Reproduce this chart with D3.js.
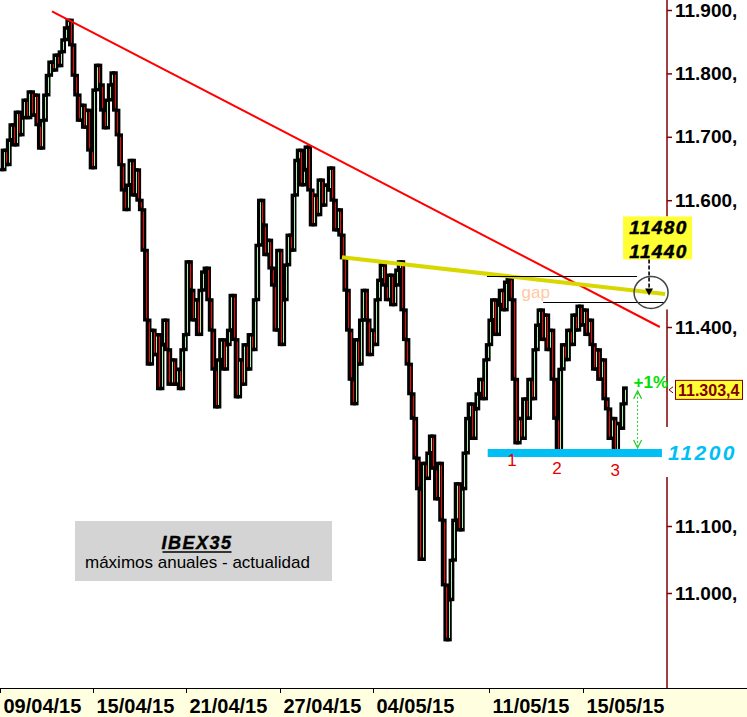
<!DOCTYPE html>
<html>
<head>
<meta charset="utf-8">
<script src="https://cdn.jsdelivr.net/npm/d3@7"></script>
<style>
  html, body { margin: 0; padding: 0; background: #fff; }
  svg { display: block; }
  text { font-family: "Liberation Sans", Arial, Helvetica, sans-serif; }
</style>
</head>
<body>
<svg id="chart" width="747" height="717"></svg>
<script>
// ---- data -------------------------------------------------------------
const tradingDays = [
  "09/04/15","10/04/15","13/04/15","14/04/15","15/04/15","16/04/15","17/04/15",
  "20/04/15","21/04/15","22/04/15","23/04/15","24/04/15","27/04/15","28/04/15",
  "29/04/15","30/04/15","04/05/15","05/05/15","06/05/15","07/05/15","08/05/15",
  "11/05/15","12/05/15","13/05/15","14/05/15","15/05/15","18/05/15"
];
const barsPerDay = 9;            // hourly bars per session

// hourly closes, IBEX 35
const closes = [
  11648, 11679, 11656, 11695, 11719, 11687, 11739, 11703, 11730,
  11758, 11730, 11771, 11734, 11766, 11719, 11682, 11726, 11766,
  11797, 11818, 11805, 11829, 11812, 11834, 11853, 11872, 11884,
  11845, 11797, 11766, 11726, 11750, 11715, 11742, 11679, 11651,
  11774, 11813, 11782, 11742, 11714, 11758, 11782, 11801, 11742,
  11703, 11656, 11616, 11585, 11624, 11663, 11608, 11648, 11600,
  11585, 11521, 11411, 11341, 11395, 11356, 11388, 11302, 11372,
  11411, 11364, 11309, 11348, 11309, 11333, 11302, 11364, 11388,
  11503, 11458, 11411, 11443, 11388, 11458, 11487, 11493, 11443,
  11395, 11333, 11273, 11348, 11380, 11333, 11372, 11395, 11450,
  11380, 11289, 11348, 11309, 11372, 11333, 11388, 11364, 11443,
  11529, 11600, 11561, 11514, 11537, 11493, 11466, 11395, 11521,
  11372, 11443, 11498, 11545, 11521, 11608, 11663, 11679, 11624,
  11648, 11684, 11616, 11561, 11608, 11577, 11632, 11592, 11624,
  11616, 11651, 11600, 11553, 11585, 11545, 11509, 11458, 11395,
  11317, 11278, 11380, 11341, 11411, 11458, 11411, 11356, 11395,
  11372, 11443, 11474, 11498, 11466, 11443, 11482, 11435, 11466,
  11490, 11503, 11427, 11380, 11341, 11294, 11255, 11193, 11151,
  11050, 11186, 11165, 11200, 11227, 11179, 11137, 11186, 11108,
  11012, 10930, 10990, 11049, 11108, 11158, 11094, 11151, 11200,
  11255, 11278, 11223, 11270, 11294, 11317, 11286, 11348, 11372,
  11411, 11443, 11388, 11435, 11458, 11427, 11471, 11477, 11443,
  11317, 11216, 11255, 11223, 11286, 11255, 11317, 11286, 11364,
  11403, 11427, 11380, 11419, 11364, 11395, 11317, 11255, 11203,
  11333, 11372, 11348, 11395, 11372, 11419, 11395, 11433, 11403,
  11427, 11388, 11411, 11372, 11333, 11364, 11317, 11348, 11286,
  11270, 11223, 11255, 11200, 11247, 11239, 11278, 11303.4
];

const dateLabels = ["09/04/15","15/04/15","21/04/15","27/04/15","04/05/15","11/05/15","15/05/15"];
// price levels labelled on the axis (11.200, 11.300 and 11.500 sit under the annotations)
const priceTicks = [11000, 11100, 11400, 11600, 11700, 11800, 11900];
const lastPrice = 11303.4;

// drawn studies: [bar index, level]
const resistanceLine = [[19.7, 11898], [254.5, 11400]];
const necklineLine   = [[131.7, 11510], [256.5, 11452]];
const targetBar = 251.1;
const supportLevel = { level: 11200, from: 188, to: 255.3 };
const gapTop    = { level: 11480, from: 187.7, to: 245.7 };
const gapBottom = { level: 11440, from: 209.4, to: 256.5 };
const targetLevels = [11480, 11440];
const bottoms = [
  { label: "1", bar: 197.4, low: 11216 },
  { label: "2", bar: 214.8, low: 11203 },
  { label: "3", bar: 237.3, low: 11200 }
];
const moveBar = 245.9;
const moveLabel = "+1%";
const titleLines = ["IBEX35", "máximos anuales - actualidad"];

// ---- layout -----------------------------------------------------------
const svg = d3.select("#chart");
const W = 747, H = 717;
const axisX = 667, bandTop = 688;
const dayWidth = 23.3;

const x = d3.scaleLinear()
  .domain([0, tradingDays.length * barsPerDay])
  .range([1, 1 + tradingDays.length * dayWidth]);
const y = d3.scaleLinear()
  .domain([11000, 11100, 11200, 11400, 11900])
  .range([593, 526, 453, 327, 10]);

const es = d3.formatLocale({ decimal: ",", thousands: ".", grouping: [3], currency: ["", " €"] });
const fmtTick = d => es.format(",.0f")(d) + ",";
const fmtLast = es.format(",.1f");

svg.append("rect").attr("width", W).attr("height", H).attr("fill", "#fff");

// ---- price axis (right) -------------------------------------------------
const axisG = svg.append("g")
  .attr("transform", `translate(${axisX},0)`)
  .call(d3.axisRight(y).tickValues(priceTicks).tickSize(5).tickPadding(3).tickFormat(fmtTick));
axisG.select(".domain").remove();
axisG.selectAll(".tick line").attr("stroke", "#800000").attr("stroke-width", 1.5);
axisG.selectAll(".tick text")
  .attr("fill", "#000")
  .style("font-family", "'Liberation Sans', Arial, sans-serif")
  .style("font-size", "19px")
  .style("font-weight", "bold");
svg.append("line")
  .attr("x1", axisX).attr("x2", axisX).attr("y1", 0).attr("y2", bandTop)
  .attr("stroke", "#800000").attr("stroke-width", 1.5);

// white backing behind the target box and the support label
const cxT = x(targetBar);
const neckAt = b => {
  const [[b0, v0], [b1, v1]] = necklineLine;
  return v0 + (v1 - v0) * (b - b0) / (b1 - b0);
};
const cyT = y(neckAt(targetBar));
svg.append("rect")
  .attr("x", axisX - 6).attr("y", cyT - 76).attr("width", W - axisX + 6).attr("height", 93)
  .attr("fill", "#fff");
svg.append("rect")
  .attr("x", axisX - 6).attr("y", y(supportLevel.level) - 26).attr("width", W - axisX + 6).attr("height", 50)
  .attr("fill", "#fff");

// ---- candles -----------------------------------------------------------
// each hourly bar opens at the previous close
const bars = closes.map((c, i) => ({ i, open: i ? closes[i - 1] : c, close: c }));
const candleG = svg.append("g");
candleG.selectAll("rect.frame").data(bars).join("rect")
  .attr("class", "frame")
  .attr("x", d => x(d.i) - 2.9)
  .attr("width", 5.8)
  .attr("y", d => y(Math.max(d.open, d.close)) - 1.5)
  .attr("height", d => Math.abs(y(d.open) - y(d.close)) + 3)
  .attr("fill", "#000");
candleG.selectAll("rect.body").data(bars.filter(d => Math.abs(y(d.open) - y(d.close)) > 6)).join("rect")
  .attr("class", "body")
  .attr("x", d => Math.round(x(d.i)))
  .attr("width", 1)
  .attr("y", d => y(Math.max(d.open, d.close)) + 2)
  .attr("height", d => Math.abs(y(d.open) - y(d.close)) - 4)
  .attr("fill", d => d.close < d.open ? "#ff0000" : "#a6f2a6");

// ---- trend lines ---------------------------------------------------------
const lineGen = d3.line().x(d => x(d[0])).y(d => y(d[1]));
svg.append("path").datum(resistanceLine).attr("d", lineGen)
  .attr("fill", "none").attr("stroke", "#ff0000").attr("stroke-width", 2);
svg.append("path").datum(necklineLine).attr("d", lineGen)
  .attr("fill", "none").attr("stroke", "#d8d800").attr("stroke-width", 4);

// gap bounds
[gapTop, gapBottom].forEach(g => {
  svg.append("line")
    .attr("x1", x(g.from)).attr("x2", x(g.to))
    .attr("y1", Math.round(y(g.level)) + 0.5).attr("y2", Math.round(y(g.level)) + 0.5)
    .attr("stroke", "#000").attr("stroke-width", 1);
});
svg.append("text")
  .attr("x", x((gapTop.from + gapBottom.from) / 2 + 8)).attr("y", y((gapTop.level + gapBottom.level) / 2) + 9)
  .attr("text-anchor", "middle").attr("fill", "#ffc9a3")
  .style("font-size", "17px").text("gap");

// target circle, box and arrow
svg.append("ellipse")
  .attr("cx", cxT).attr("cy", cyT).attr("rx", 17).attr("ry", 16)
  .attr("fill", "none").attr("stroke", "#444").attr("stroke-width", 1.5);
const boxW = 69, boxH = 43;
const boxX = cxT - 28, boxY = cyT - 76;
svg.append("rect")
  .attr("x", boxX).attr("y", boxY).attr("width", boxW).attr("height", boxH)
  .attr("fill", "#ffff33");
targetLevels.forEach((v, k) => {
  svg.append("text")
    .attr("x", boxX + boxW / 2 + 1).attr("y", boxY + 18 + k * 24)
    .attr("text-anchor", "middle").attr("fill", "#000")
    .attr("stroke", "#000").attr("stroke-width", 0.5)
    .style("font-size", "19px").style("font-weight", "bold").style("font-style", "italic")
    .style("letter-spacing", "1.4px")
    .text(v);
});
svg.append("line")
  .attr("x1", cxT - 2).attr("x2", cxT - 2).attr("y1", boxY + boxH).attr("y2", cyT - 2)
  .attr("stroke", "#000").attr("stroke-width", 1.6).attr("stroke-dasharray", "4,2");
svg.append("path")
  .attr("d", `M${cxT - 6},${cyT - 4} L${cxT + 2},${cyT - 4} L${cxT - 2},${cyT + 3} Z`)
  .attr("fill", "#000");

// support
const ySup = y(supportLevel.level);
svg.append("line")
  .attr("x1", x(supportLevel.from)).attr("x2", x(supportLevel.to))
  .attr("y1", ySup).attr("y2", ySup)
  .attr("stroke", "#00bff5").attr("stroke-width", 8);
svg.append("text")
  .attr("x", axisX + 1).attr("y", ySup + 7)
  .attr("fill", "#00bff5")
  .style("font-size", "21px").style("font-weight", "bold").style("font-style", "italic")
  .style("letter-spacing", "2.4px")
  .text(supportLevel.level);

// numbered bottoms
svg.append("g").selectAll("text").data(bottoms).join("text")
  .attr("x", d => x(d.bar)).attr("y", d => y(d.low) + 23)
  .attr("text-anchor", "middle").attr("fill", "#e60000")
  .style("font-size", "17px")
  .text(d => d.label);

// +1% measured move
const mxa = x(moveBar);
const yTop = y(lastPrice) + 3, yBot = ySup - 5;
svg.append("line")
  .attr("x1", mxa).attr("x2", mxa).attr("y1", yTop + 2).attr("y2", yBot - 2)
  .attr("stroke", "#22cc22").attr("stroke-width", 1).attr("stroke-dasharray", "2,2");
svg.append("path")
  .attr("d", `M${mxa - 4},${yTop + 8} L${mxa},${yTop} L${mxa + 4},${yTop + 8} M${mxa - 4},${yBot - 8} L${mxa},${yBot} L${mxa + 4},${yBot - 8}`)
  .attr("fill", "none").attr("stroke", "#22cc22").attr("stroke-width", 1.2);
svg.append("text")
  .attr("x", mxa - 4).attr("y", yTop - 3)
  .attr("fill", "#00e000")
  .style("font-size", "17px").style("font-weight", "bold")
  .text(moveLabel);

// last price tag
const yLast = y(lastPrice) + 2;
svg.append("path")
  .attr("d", `M${axisX + 6},${yLast - 3} L${axisX + 2},${yLast} L${axisX + 6},${yLast + 3}`)
  .attr("fill", "none").attr("stroke", "#800000").attr("stroke-width", 1);
svg.append("rect")
  .attr("x", axisX + 8.5).attr("y", yLast - 9.5).attr("width", 67).attr("height", 19)
  .attr("fill", "#ffff33").attr("stroke", "#800000").attr("stroke-width", 1);
svg.append("text")
  .attr("x", axisX + 11).attr("y", yLast + 6)
  .attr("fill", "#800000")
  .style("font-size", "16px").style("font-weight", "bold")
  .text(fmtLast(lastPrice));

// ---- title box -----------------------------------------------------------
svg.append("rect")
  .attr("x", 75).attr("y", 521).attr("width", 257).attr("height", 60)
  .attr("fill", "#d4d4d4");
const t1 = svg.append("text")
  .attr("x", 197).attr("y", 549).attr("text-anchor", "middle").attr("fill", "#000")
  .attr("stroke", "#000").attr("stroke-width", 0.4)
  .style("font-size", "18px").style("font-weight", "bold").style("font-style", "italic")
  .style("letter-spacing", "1.5px")
  .text(titleLines[0]);
const bb = t1.node().getBBox();
svg.append("line")
  .attr("x1", bb.x + 1).attr("x2", bb.x + bb.width - 1).attr("y1", 552).attr("y2", 552)
  .attr("stroke", "#000").attr("stroke-width", 1.5);
svg.append("text")
  .attr("x", 85).attr("y", 568).attr("fill", "#000")
  .style("font-size", "17px")
  .text(titleLines[1]);

// ---- date band -------------------------------------------------------------
svg.append("rect")
  .attr("x", 0).attr("y", bandTop).attr("width", W).attr("height", H - bandTop)
  .attr("fill", "#ffffe0");
svg.append("line")
  .attr("x1", 0).attr("x2", W).attr("y1", bandTop + 0.5).attr("y2", bandTop + 0.5)
  .attr("stroke", "#000").attr("stroke-width", 1);
const dateG = svg.append("g");
dateLabels.forEach(lbl => {
  const d = tradingDays.indexOf(lbl);
  const xp = Math.round(x(d * barsPerDay)) - 0.5;
  dateG.append("line")
    .attr("x1", xp).attr("x2", xp).attr("y1", bandTop).attr("y2", bandTop + 5)
    .attr("stroke", "#000").attr("stroke-width", 1);
  dateG.append("text")
    .attr("x", xp + 3).attr("y", 713)
    .attr("fill", "#000")
    .style("font-size", "20px").style("font-weight", "bold")
    .text(lbl);
});
</script>
</body>
</html>
